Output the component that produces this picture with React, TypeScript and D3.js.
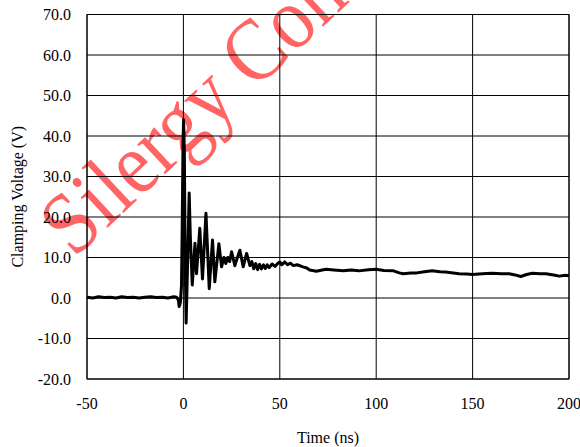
import React from 'react';
import * as d3 from 'd3';

// waveform
const timeNs = [
    -50, -47, -44, -41, -38, -35, -32, -29, -26, -23, -20, -17, -14, -11, -8, -5, -3.5,
    -2.6, -2.2, -1.6, -1.0, -0.6, -0.2, 0.1, 0.5, 0.9, 1.4, 2.0, 3.0, 3.6, 4.6, 6.0, 6.8,
    8.5, 9.9, 11.7, 13.4, 15.1, 16.3, 18.4, 19.8, 21, 22, 23, 24, 25, 26.7, 28, 29.3, 31,
    32.8, 34.5, 35.5, 36.5, 37.5, 38.5, 39.5, 40.5, 41.5, 42.5, 43.5, 44.5, 46, 47.5, 49,
    50, 51, 52.6, 54, 55.5, 57, 59, 62, 64, 65.5, 69, 72, 74, 78, 83, 87, 91, 96, 100,
    104, 109, 112, 114, 118, 121, 125, 129, 133, 136, 140, 143, 147, 150, 155, 160, 165,
    169, 172, 175, 178, 181, 185, 188, 192, 195, 198, 200,
];
const voltage = [
    0.2, 0.0, 0.3, 0.1, 0.2, 0.0, 0.3, 0.1, 0.2, 0.0, 0.2, 0.3, 0.1, 0.2, 0.0, 0.3, 0.2,
    -0.5, -2.1, -1.2, 3, 18, 38, 44, 36, 10, -6.2, 5, 25.9, 15, 3.2, 13.5, 6,
    17.2, 4.7, 20.9, 2.3, 14.3, 4, 13.4, 7.7, 10, 8.5, 10, 9, 11.4, 8, 10, 11.8, 7.7,
    11, 8, 9, 7.2, 8.5, 7, 8.3, 7.2, 8.2, 7.3, 8.2, 7.5, 8.4, 7.8, 8.6,
    8.9, 8.2, 8.9, 8.2, 8.6, 8.0, 8.2, 7.7, 7.4, 6.9, 6.6, 6.9, 7.1, 6.9, 6.7, 6.9, 6.7, 7.0, 7.1,
    6.8, 6.7, 6.2, 6.0, 6.2, 6.2, 6.5, 6.7, 6.5, 6.4, 6.2, 6.0, 5.9, 5.8, 6.0, 6.1, 6.0,
    6.0, 5.7, 5.3, 5.8, 6.1, 6.0, 6.0, 5.7, 5.4, 5.6, 5.5,
];

const xTicks = [-50, 0, 50, 100, 150, 200];
const yTicks = [-20, -10, 0, 10, 20, 30, 40, 50, 60, 70];

const width = 580;
const height = 447;
const margin = { top: 14.5, right: 11, bottom: 68, left: 87 };
const font = '"Liberation Serif", "Times New Roman", serif';

export default function App() {
    const x = d3
        .scaleLinear()
        .domain([-50, 200])
        .range([margin.left, width - margin.right]);

    const y = d3
        .scaleLinear()
        .domain([-20, 70])
        .range([height - margin.bottom, margin.top]);

    const line = d3
        .line<number>()
        .x((d, i) => x(timeNs[i]))
        .y(d => y(d));

    const x0 = x.range()[0];
    const x1 = x.range()[1];
    const y0 = y.range()[0];
    const y1 = y.range()[1];

    return (
        <svg
            width={width}
            height={height}
            style={{ position: 'absolute', left: 0, top: 0, background: '#fff' }}
        >
            {/* watermark, cut off by the top edge like in the original */}
            <text
                transform="translate(74,259) rotate(-43) scale(1,1.12)"
                fontFamily={font}
                fontSize={79}
                fill="#ff0000"
                opacity={0.6}
            >
                Silergy Confidential
            </text>
            <g stroke="#000" strokeWidth={1}>
                {yTicks.map(t => (
                    <line key={'y' + t} x1={x0} x2={x1} y1={y(t)} y2={y(t)} />
                ))}
                {xTicks.map(t => (
                    <line key={'x' + t} x1={x(t)} x2={x(t)} y1={y0} y2={y1} />
                ))}
                <rect x={x0} y={y1} width={x1 - x0} height={y0 - y1} fill="none" />
            </g>
            <path
                d={line(voltage) || ''}
                fill="none"
                stroke="#000"
                strokeWidth={3}
                strokeLinejoin="round"
            />
            <g fontFamily={font} fontSize={16} fill="#000">
                {yTicks.map(t => (
                    <text key={'yl' + t} x={71} y={y(t) + 5.5} textAnchor="end">
                        {t.toFixed(1)}
                    </text>
                ))}
                {xTicks.map(t => (
                    <text key={'xl' + t} x={x(t)} y={409} textAnchor="middle">
                        {t}
                    </text>
                ))}
                <text x={328} y={443} textAnchor="middle">
                    Time (ns)
                </text>
                <text
                    transform={`translate(23,${(y0 + y1) / 2}) rotate(-90)`}
                    textAnchor="middle"
                >
                    Clamping Voltage (V)
                </text>
            </g>
        </svg>
    );
}
